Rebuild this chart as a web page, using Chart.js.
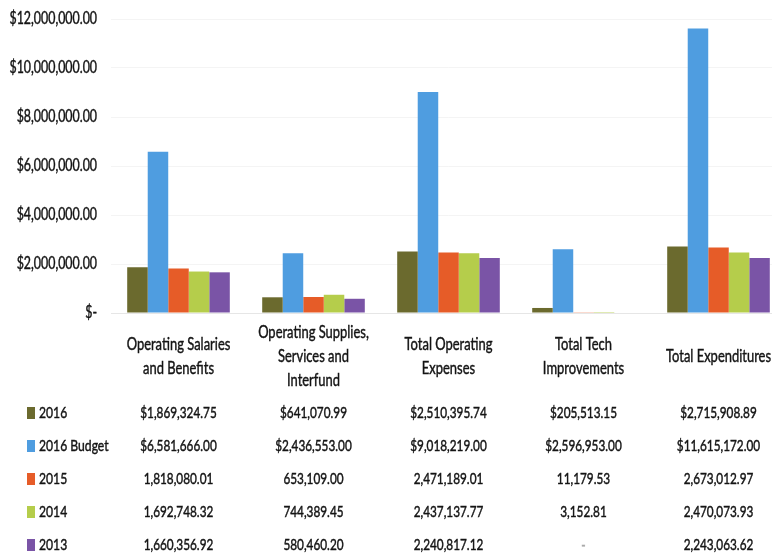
<!DOCTYPE html>
<html>
<head>
<meta charset="utf-8">
<script src="https://cdn.jsdelivr.net/npm/chart.js@4.4.1/dist/chart.umd.min.js"></script>
<style>
  html, body { margin: 0; padding: 0; background: #ffffff; overflow: hidden; }
  #wrap { position: relative; width: 790px; height: 558px; }
</style>
</head>
<body>
<div id="wrap"><canvas id="c"></canvas></div>
<script>
// ---- data ----
const categories = [
  ["Operating Salaries", "and Benefits"],
  ["Operating Supplies,", "Services and", "Interfund"],
  ["Total Operating", "Expenses"],
  ["Total Tech", "Improvements"],
  ["Total Expenditures"]
];
const seriesNames = ["2016", "2016 Budget", "2015", "2014", "2013"];
const values2016       = [1869324.75, 641070.99, 2510395.74, 205513.15, 2715908.89];
const values2016Budget = [6581666.00, 2436553.00, 9018219.00, 2596953.00, 11615172.00];
const values2015       = [1818080.01, 653109.00, 2471189.01, 11179.53, 2673012.97];
const values2014       = [1692748.32, 744389.45, 2437137.77, 3152.81, 2470073.93];
const values2013       = [1660356.92, 580460.20, 2240817.12, null, 2243063.62];
const dollarRows = [true, true, false, false, false];
const yTicks = [0, 2000000, 4000000, 6000000, 8000000, 10000000, 12000000];

const colors = ["#6b6a2e", "#4f9de0", "#e65c28", "#b5cd4b", "#7a54a6"];
const allValues = [values2016, values2016Budget, values2015, values2014, values2013];

const FONT = 'Lato, "DejaVu Sans Condensed", sans-serif';
const TEXT = '#141414';

function fmtNum(v) {
  return v.toLocaleString('en-US', { minimumFractionDigits: 2, maximumFractionDigits: 2 });
}
function yLabel(v) { return v === 0 ? '$-' : '$' + fmtNum(v); }

// draw narrow (horizontally condensed), slightly heavier text
function nText(ctx, s, x, y, size, sx, align, color) {
  ctx.save();
  ctx.font = size + 'px ' + FONT;
  ctx.textAlign = align;
  ctx.textBaseline = 'middle';
  ctx.fillStyle = color || TEXT;
  ctx.strokeStyle = color || TEXT;
  ctx.lineWidth = 0.45;
  ctx.translate(x, y);
  ctx.scale(sx, 1);
  ctx.fillText(s, 0, 0);
  ctx.strokeText(s, 0, 0);
  ctx.restore();
}

const tablePlugin = {
  id: 'dataTable',
  afterDraw(chart) {
    const ctx = chart.ctx;
    const xs = chart.scales.x;
    const ys = chart.scales.y;
    ctx.save();
    // y axis labels
    ys.ticks.forEach(t => {
      nText(ctx, yLabel(t.value), 97, ys.getPixelForValue(t.value), 16.5, 0.75, 'right');
    });
    // category header labels
    const headerCenter = 356, lineH = 24;
    categories.forEach((lines, i) => {
      const x = xs.getPixelForValue(i);
      const start = headerCenter - (lines.length - 1) * lineH / 2;
      lines.forEach((ln, k) => nText(ctx, ln, x, start + k * lineH, 17.5, 0.74, 'center'));
    });
    // rows
    const rowY = [413, 446, 479, 512, 545];
    allValues.forEach((vals, r) => {
      const y = rowY[r];
      ctx.fillStyle = colors[r];
      ctx.fillRect(27, y - 6, 8, 12);
      nText(ctx, seriesNames[r], 39, y, 16, 0.76, 'left');
      vals.forEach((v, i) => {
        const x = xs.getPixelForValue(i);
        const s = v === null ? '-' : (dollarRows[r] ? '$' : '') + fmtNum(v);
        nText(ctx, s, x, y, 15.5, 0.76, 'center', v === null ? '#aaa' : TEXT);
      });
    });
    ctx.restore();
  }
};

new Chart(document.getElementById('c'), {
  type: 'bar',
  data: {
    labels: categories.map(c => c.join(' ')),
    datasets: seriesNames.map((n, i) => ({
      label: n,
      data: allValues[i],
      backgroundColor: colors[i],
      borderWidth: 0,
      categoryPercentage: 0.76,
      barPercentage: 1.0
    }))
  },
  options: {
    responsive: true,
    maintainAspectRatio: false,
    animation: false,
    layout: { padding: { top: 19, right: 4, bottom: 245, left: 0 } },
    plugins: { legend: { display: false }, tooltip: { enabled: false } },
    scales: {
      x: {
        ticks: { display: false },
        grid: { display: false },
        border: { display: true, color: '#e6e6e6' },
        afterFit(s) { s.height = 0; }
      },
      y: {
        min: 0,
        max: 12000000,
        afterBuildTicks(s) { s.ticks = yTicks.map(v => ({ value: v })); },
        afterFit(s) { s.width = 111; },
        ticks: { display: false },
        grid: { color: 'rgba(0,0,0,0.045)', drawTicks: false },
        border: { display: false }
      }
    }
  },
  plugins: [tablePlugin]
});
</script>
</body>
</html>
